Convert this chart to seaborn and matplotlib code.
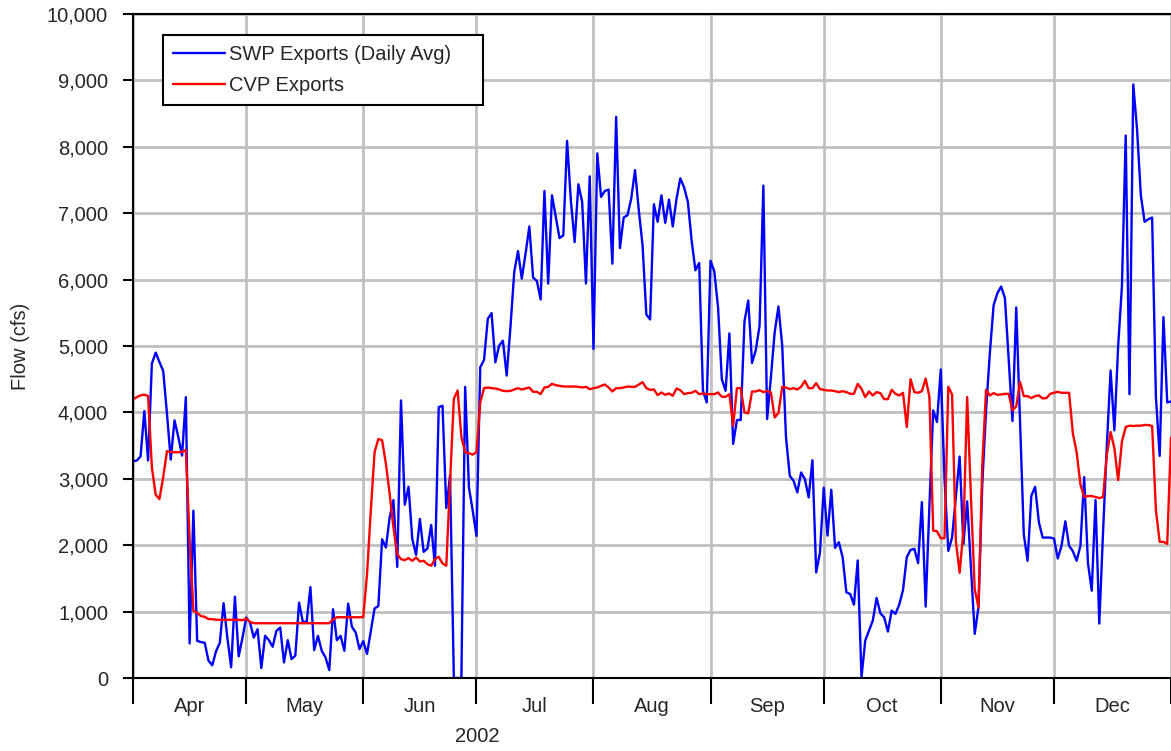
import numpy as np
import pandas as pd
import matplotlib
matplotlib.use("Agg")
import matplotlib.pyplot as plt
import matplotlib.dates as mdates
from matplotlib.ticker import FixedLocator, FuncFormatter, NullFormatter
import seaborn as sns

# ---------------- data (daily values, cfs) ----------------
swp_apr = [3265, 3275, 3335, 4020, 3275, 4735, 4900, 4760, 4625, 3980, 3290, 3880, 3630, 3350, 4230,
           520, 2520, 560, 540, 530, 262, 191, 403, 530, 1128, 605, 161, 1224, 327, 605]
swp_may = [910, 835, 610, 735, 150, 635, 570, 470, 710, 760, 235, 570, 285, 335, 1135, 845, 845, 1370,
           420, 635, 410, 310, 120, 1035, 570, 635, 410, 1120, 770, 685, 435]
swp_jun = [555, 363, 705, 1048, 1083, 2090, 1965, 2420, 2680, 1673, 4180, 2610, 2880, 2090, 1855, 2395,
           1900, 1950, 2305, 1690, 4080, 4100, 2560, 3050, 0, 0, 0, 4385, 2870, 2520]
swp_jul = [2140, 4680, 4790, 5410, 5495, 4755, 5005, 5080, 4555, 5285, 6115, 6430, 6015, 6390, 6800, 6030,
           5980, 5700, 7335, 5940, 7270, 6945, 6625, 6665, 8090, 7195, 6565, 7435, 7170, 5940, 7555]
swp_aug = [4955, 7900, 7245, 7335, 7355, 6240, 8450, 6475, 6935, 6970, 7220, 7650, 7045, 6515, 5475, 5400,
           7135, 6870, 7270, 6855, 7205, 6800, 7220, 7525, 7390, 7170, 6590, 6140, 6250, 4325, 4150]
swp_sep = [6285, 6125, 5585, 4500, 4325, 5190, 3525, 3885, 3885, 5370, 5685, 4745, 4940, 5305, 7415, 3900,
           4530, 5205, 5595, 5005, 3625, 3045, 2970, 2795, 3095, 2995, 2720, 3280, 1590, 1890]
swp_oct = [2865, 2145, 2835, 1960, 2045, 1820, 1290, 1265, 1105, 1770, 10, 565, 715, 865, 1205, 975,
           915, 700, 1015, 965, 1105, 1325, 1820, 1930, 1945, 1730, 2650, 1075, 2600, 4030, 3855]
swp_nov = [4645, 3000, 1915, 2115, 2720, 3335, 2015, 2660, 1660, 665, 1070, 2920, 4030, 4885, 5615, 5795,
           5895, 5720, 4785, 3870, 5580, 3850, 2165, 1765, 2745, 2880, 2345, 2115, 2115, 2115]
swp_dec = [2100, 1800, 1990, 2360, 1990, 1910, 1765, 1990, 3025, 1730, 1315, 2680, 820, 2200, 3500, 4630,
           3730, 5000, 5900, 8170, 4275, 8940, 8270, 7275, 6870, 6910, 6935, 4230, 3345, 5435, 4150, 4165]

cvp_apr = [4196, 4230, 4257, 4267, 4247, 3174, 2760, 2695, 3023, 3416, 3405, 3400, 3400, 3405, 3436,
           2100, 1008, 982, 932, 922, 887, 887, 877, 877, 877, 877, 877, 877, 877, 870]
cvp_may = [895, 845, 825, 825, 825, 825, 825, 825, 825, 825, 825, 825, 825, 825, 825, 825, 825, 825,
           825, 825, 825, 825, 825, 880, 915, 915, 915, 915, 915, 915, 915]
cvp_jun = [917, 1560, 2520, 3400, 3600, 3580, 3225, 2770, 2265, 1865, 1790, 1775, 1805, 1765, 1815, 1755,
           1765, 1715, 1690, 1790, 1825, 1725, 1690, 2950, 4205, 4330, 3630, 3400, 3385, 3365]
cvp_jul = [3400, 4150, 4365, 4375, 4365, 4360, 4345, 4325, 4320, 4325, 4345, 4365, 4345, 4360, 4375, 4310,
           4310, 4275, 4375, 4385, 4430, 4410, 4400, 4390, 4390, 4390, 4390, 4385, 4375, 4385, 4350]
cvp_aug = [4365, 4375, 4400, 4420, 4375, 4315, 4365, 4365, 4375, 4390, 4385, 4385, 4420, 4455, 4365, 4340,
           4345, 4260, 4300, 4265, 4285, 4250, 4360, 4335, 4275, 4290, 4295, 4325, 4275, 4285, 4275]
cvp_sep = [4275, 4275, 4300, 4235, 4235, 4275, 3800, 4365, 4365, 4000, 3985, 4315, 4315, 4335, 4305, 4325,
           4300, 3925, 3990, 4385, 4375, 4350, 4365, 4345, 4385, 4475, 4365, 4365, 4440, 4350]
cvp_oct = [4340, 4330, 4330, 4320, 4305, 4320, 4305, 4280, 4280, 4430, 4355, 4230, 4315, 4255, 4305, 4290,
           4200, 4200, 4340, 4280, 4255, 4295, 3780, 4500, 4305, 4295, 4320, 4510, 4230, 2220, 2210]
cvp_nov = [2105, 2105, 4385, 4270, 2065, 1585, 2215, 4230, 2720, 1335, 1060, 3200, 4340, 4255, 4290, 4265,
           4270, 4280, 4280, 4030, 4090, 4460, 4245, 4245, 4215, 4245, 4255, 4210, 4215, 4280]
cvp_dec = [4295, 4310, 4295, 4295, 4295, 3685, 3400, 2915, 2725, 2740, 2740, 2725, 2710, 2725, 3365, 3705,
           3460, 2980, 3560, 3780, 3800, 3795, 3800, 3800, 3810, 3810, 3795, 2530, 2050, 2050, 2020, 3620]

month_labels = ["Apr", "May", "Jun", "Jul", "Aug", "Sep", "Oct", "Nov", "Dec"]
year_label = "2002"
series_names = ["SWP Exports (Daily Avg)", "CVP Exports"]
series_colors = ["#0000FF", "#FF0000"]
y_ticks = list(range(0, 10001, 1000))

swp = swp_apr + swp_may + swp_jun + swp_jul + swp_aug + swp_sep + swp_oct + swp_nov + swp_dec
cvp = cvp_apr + cvp_may + cvp_jun + cvp_jul + cvp_aug + cvp_sep + cvp_oct + cvp_nov + cvp_dec
n = len(swp)
dates = pd.date_range("2002-04-01", periods=n, freq="D")

df = pd.DataFrame({
    "date": list(dates) + list(dates),
    "flow": swp + cvp,
    "series": [series_names[0]] * n + [series_names[1]] * n,
})

# ---------------- style ----------------
sns.set_style("white")
plt.rcParams["font.family"] = ["Liberation Sans", "DejaVu Sans"]

W, H = 1171, 751
fig = plt.figure(figsize=(W / 100, H / 100), dpi=100)
ax = fig.add_axes([133 / W, 1 - 678 / H, 1038 / W, 664 / H])

sns.lineplot(data=df, x="date", y="flow", hue="series", hue_order=series_names,
             palette=dict(zip(series_names, series_colors)), linewidth=1.7,
             estimator=None, ax=ax, legend=False)

# axes limits
x0 = mdates.date2num(pd.Timestamp("2002-04-01"))
x1 = mdates.date2num(pd.Timestamp("2003-01-01"))
ax.set_xlim(x0, x1)
ax.set_ylim(0, 10000)

# x ticks: month boundaries (long, unlabeled) + month names centred
bounds = [mdates.date2num(d) for d in pd.date_range("2002-04-01", "2003-01-01", freq="MS")]
mids = [(a + b) / 2 for a, b in zip(bounds[:-1], bounds[1:])]
ax.xaxis.set_major_locator(FixedLocator(bounds))
ax.xaxis.set_major_formatter(NullFormatter())
ax.set_xticks(mids, minor=True)
ax.set_xticklabels(month_labels, minor=True)
ax.tick_params(axis="x", which="major", bottom=True, direction="out", length=18.5, width=1.5,
               color="black")
ax.tick_params(axis="x", which="minor", bottom=True, length=0, pad=14, labelsize=14.5)

# y ticks
ax.set_yticks(y_ticks)
ax.yaxis.set_major_formatter(FuncFormatter(lambda v, p: f"{v:,.0f}"))
ax.tick_params(axis="y", which="major", left=True, direction="out", length=7, width=1.5,
               color="black", pad=11, labelsize=14.5)

ax.grid(True, which="major", color="#c0c0c0", linewidth=2)
ax.set_axisbelow(True)

for side in ["left", "bottom", "top"]:
    ax.spines[side].set_visible(True)
    ax.spines[side].set_color("black")
    ax.spines[side].set_linewidth(1.5)
ax.spines["right"].set_visible(False)

ax.set_xlabel("")
ax.set_ylabel("Flow (cfs)", fontsize=14.5)
ax.yaxis.set_label_coords(-0.099, 0.5)

fig.text(477 / W, 1 - 736 / H, year_label, ha="center", va="center", fontsize=14.5)

leg = ax.legend(handles=ax.lines[:2], labels=series_names, loc="upper left",
                bbox_to_anchor=(30 / 1038, 1 - 21 / 664, 320 / 1038, 0.0), mode="expand",
                borderaxespad=0, frameon=True, fancybox=False, edgecolor="black",
                fontsize=14.5, handlelength=2.6, handletextpad=0.2, labelspacing=0.6,
                borderpad=0.5)
leg.get_frame().set_linewidth(1.5)
leg.get_frame().set_facecolor("white")
leg.get_frame().set_alpha(1)

fig.savefig("out.png", dpi=100)
